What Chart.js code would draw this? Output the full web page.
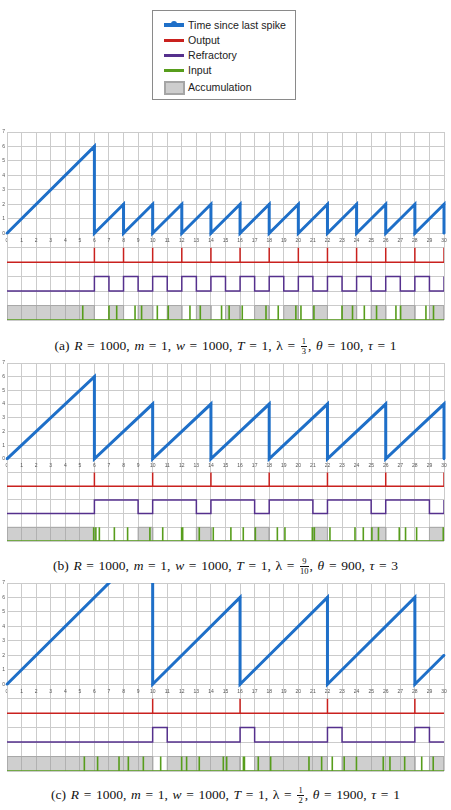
<!DOCTYPE html>
<html lang="en">
<head>
<meta charset="UTF-8">
<title>Spike timing</title>
<script src="https://cdn.jsdelivr.net/npm/chart.js"></script>
<style>
  body { margin: 0; width: 451px; height: 810px; background: #fff; position: relative; overflow: hidden; }
  canvas { position: absolute; left: 0; }
  .legend { position: absolute; left: 152px; top: 10px; width: 142px; height: 88px; border: 1px solid #8a8a8a;
            font-family: "Liberation Sans", Arial, sans-serif; font-size: 10.6px; color: #222; }
  .legend .row { position: absolute; left: 35px; height: 14px; line-height: 14px; white-space: nowrap; }
  .legend .line { position: absolute; left: 11px; width: 20px; }
  .legend .dot { position: absolute; left: 7px; top: -2px; width: 6px; height: 6px; border-radius: 50%; }
  .legend .box { position: absolute; left: 11px; top: 70px; width: 17px; height: 10px; background: #cdcdcd; border: 2px solid #a5a5a5; }
  .caption { position: absolute; left: 0; width: 451px; text-align: center; font-family: "Liberation Serif", "DejaVu Serif", serif;
             font-size: 13.5px; word-spacing: 1.3px; color: #111; white-space: nowrap; }
  .frac { display: inline-block; vertical-align: -0.45em; text-align: center; font-size: 8.5px; line-height: 1; margin: 0 1px; word-spacing: 0; }
  .frac span { display: block; }
  .frac .num { border-bottom: 0.7px solid #111; padding: 0 1px; }
</style>
</head>
<body>

<div class="legend">
  <div class="line" style="top:12px;height:4px;background:#1e6fc8"><div class="dot" style="background:#1e6fc8"></div></div>
  <div class="row" style="top:7px">Time since last spike</div>
  <div class="line" style="top:28px;height:2.5px;background:#c9211e"></div>
  <div class="row" style="top:22px">Output</div>
  <div class="line" style="top:43px;height:2.5px;background:#55308d"></div>
  <div class="row" style="top:37px">Refractory</div>
  <div class="line" style="top:58px;height:2.5px;background:#579d1c"></div>
  <div class="row" style="top:52px">Input</div>
  <div class="box"></div>
  <div class="row" style="top:69px">Accumulation</div>
</div>

<canvas id="chartA" width="451" height="198" style="top:127px"></canvas>
<div class="caption" style="top:337px">(a) <i>R</i> = 1000, <i>m</i> = 1, <i>w</i> = 1000, <i>T</i> = 1, λ = <span class="frac"><span class="num">1</span><span>3</span></span>, <i>θ</i> = 100, <i>τ</i> = 1</div>

<canvas id="chartB" width="451" height="188" style="top:358px"></canvas>
<div class="caption" style="top:557px">(b) <i>R</i> = 1000, <i>m</i> = 1, <i>w</i> = 1000, <i>T</i> = 1, λ = <span class="frac"><span class="num">9</span><span>10</span></span>, <i>θ</i> = 900, <i>τ</i> = 3</div>

<canvas id="chartC" width="451" height="198" style="top:578px"></canvas>
<div class="caption" style="top:786px">(c) <i>R</i> = 1000, <i>m</i> = 1, <i>w</i> = 1000, <i>T</i> = 1, λ = <span class="frac"><span class="num">1</span><span>2</span></span>, <i>θ</i> = 1900, <i>τ</i> = 1</div>

<script>
// x range and tick labels shared by all three panels
const timeTicks = [0, 1, 2, 3, 4, 5, 6, 7, 8, 9, 10, 11, 12, 13, 14, 15, 16, 17, 18, 19, 20, 21, 22, 23, 24, 25, 26, 27, 28, 29, 30];
const sinceTicks = [0, 1, 2, 3, 4, 5, 6, 7];

// (a) lambda = 1/3, theta = 100, tau = 1
const sinceA_x = [0, 6, 6, 8, 8, 10, 10, 12, 12, 14, 14, 16, 16, 18, 18, 20, 20, 22, 22, 24, 24, 26, 26, 28, 28, 30, 30];
const sinceA_y = [0, 6, 0, 2, 0, 2, 0, 2, 0, 2, 0, 2, 0, 2, 0, 2, 0, 2, 0, 2, 0, 2, 0, 2, 0, 2, 0];
const outA = [6, 8, 10, 12, 14, 16, 18, 20, 22, 24, 26, 28, 30];
const refA = [[6, 7], [8, 9], [10, 11], [12, 13], [14, 15], [16, 17], [18, 19], [20, 21], [22, 23], [24, 25], [26, 27], [28, 29], [30, 30]];
const accA = [[0, 6], [7, 8], [9, 10], [11, 12], [13, 14], [15, 16], [17, 18], [19, 20], [21, 22], [23, 24], [25, 26], [27, 28], [29, 30]];
const inA = [5.2, 7.0, 7.53, 8.79, 9.24, 10.32, 11.07, 12.56, 13.27, 14.73, 15.25, 16.15, 17.78, 18.62, 19.83, 20.18,
             21.07, 23.0, 23.72, 24.53, 25.37, 26.7, 27.02, 28.76, 29.28];

// (b) lambda = 9/10, theta = 900, tau = 3
const sinceB_x = [0, 6, 6, 10, 10, 14, 14, 18, 18, 22, 22, 26, 26, 30, 30];
const sinceB_y = [0, 6, 0, 4, 0, 4, 0, 4, 0, 4, 0, 4, 0, 4, 0];
const outB = [6, 10, 14, 18, 22, 26, 30];
const refB = [[6, 9], [10, 13], [14, 17], [18, 21], [22, 25], [26, 29], [30, 30]];
const accB = [[0, 6], [9, 10], [13, 14], [17, 18], [21, 22], [25, 26], [29, 30]];
const inB = [5.95, 6.1, 6.34, 7.37, 8.28, 9.81, 10.69, 11.99, 12.06, 13.2, 14.16, 15.37, 16.22, 17.05, 18.56, 19.08,
             20.96, 21.1, 22.17, 23.89, 24.46, 25.05, 25.5, 26.93, 27.36, 28.12, 29.95];

// (c) lambda = 1/2, theta = 1900, tau = 1
const sinceC_x = [0, 10, 10, 16, 16, 22, 22, 28, 28, 30];
const sinceC_y = [0, 10, 0, 6, 0, 6, 0, 6, 0, 2];
const outC = [10, 16, 22, 28];
const refC = [[10, 11], [16, 17], [22, 23], [28, 29]];
const accC = [[0, 10], [11, 16], [17, 22], [23, 28], [29, 30]];
const inC = [5.31, 6.22, 7.69, 8.33, 9.36, 10.55, 11.99, 12.33, 13.2, 14.85, 15.08, 16.23, 16.3, 17.25, 18.1,
             20.73, 21.6, 22.33, 23.15, 23.99, 25.83, 26.29, 27.3, 28.47, 29.26];

const BLUE = '#1e6fc8', RED = '#c9211e', PURPLE = '#55308d', GREEN = '#579d1c';
const GRID = '#cbcbcb';
const xMin = timeTicks[0], xMax = timeTicks[timeTicks.length - 1];
const yTop = sinceTicks[sinceTicks.length - 1];

function zip(xs, ys) {
    return xs.map((x, i) => ({ x: x, y: ys[i] }));
}

// vertical unit spikes on a flat baseline
function spikeTrain(times) {
    const pts = [{ x: xMin, y: 0 }];
    times.forEach(t => pts.push({ x: t, y: 0 }, { x: t, y: 1 }, { x: t, y: 0 }));
    pts.push({ x: xMax, y: 0 });
    return pts;
}

// square wave, high on each interval
function steps(intervals) {
    const pts = [{ x: xMin, y: 0 }];
    intervals.forEach(([a, b]) => pts.push({ x: a, y: 0 }, { x: a, y: 1 }, { x: b, y: 1 }, { x: b, y: 0 }));
    pts.push({ x: xMax, y: 0 });
    return pts;
}

function makeChart(id, p, padBottom) {
    // the lower rows sit under the time axis, one grid unit each with a unit gap
    const rows = 6;
    new Chart(document.getElementById(id), {
        type: 'line',
        data: {
            datasets: [{
                label: 'Time since last spike',
                data: zip(p.sinceX, p.sinceY),
                yAxisID: 'y',
                borderColor: BLUE,
                backgroundColor: BLUE,
                borderWidth: 3,
                pointRadius: 1.3,
                pointBorderWidth: 0,
                order: 0,
                clip: { left: 3, right: 3, top: 0, bottom: 3 }
            }, {
                label: 'Output',
                data: spikeTrain(p.out),
                yAxisID: 'yOut',
                borderColor: RED,
                borderWidth: 1.5,
                pointRadius: 0,
                order: 1
            }, {
                label: 'Refractory',
                data: steps(p.ref),
                yAxisID: 'yRef',
                borderColor: PURPLE,
                borderWidth: 1.5,
                pointRadius: 0,
                order: 2
            }, {
                label: 'Input',
                data: spikeTrain(p.inp),
                yAxisID: 'yIn',
                borderColor: GREEN,
                borderWidth: 1.6,
                pointRadius: 0,
                order: 3
            }, {
                label: 'Accumulation',
                data: steps(p.acc),
                yAxisID: 'yIn',
                borderColor: '#a8a8a8',
                borderWidth: 1,
                backgroundColor: 'rgba(140,140,140,0.42)',
                fill: 'origin',
                pointRadius: 0,
                order: 4
            }]
        },
        options: {
            responsive: false,
            animation: false,
            devicePixelRatio: 1,
            layout: { padding: { left: 0, right: 7, top: 4, bottom: padBottom } },
            plugins: { legend: { display: false }, tooltip: { enabled: false } },
            elements: { line: { tension: 0, borderJoinStyle: 'miter' } },
            scales: {
                x: {
                    type: 'linear',
                    position: { y: 0 },
                    min: xMin,
                    max: xMax,
                    grid: { color: GRID, drawTicks: false },
                    border: { color: GRID },
                    afterBuildTicks: (s) => { s.ticks = timeTicks.map(v => ({ value: v })); },
                    ticks: { autoSkip: false, maxRotation: 0, padding: 4, color: '#555',
                             font: { size: 5, family: 'Liberation Sans' } }
                },
                y: {
                    min: -rows,
                    max: yTop,
                    grid: { color: GRID, drawTicks: false },
                    border: { color: GRID },
                    afterFit: (s) => { s.width = 7; },
                    ticks: { stepSize: 1, padding: 2, color: '#555',
                             font: { size: 5, family: 'Liberation Sans' },
                             callback: (v) => sinceTicks.includes(v) ? v : '' }
                },
                yOut: { display: false, min: -rows + 2, max: yTop + 2 },
                yRef: { display: false, min: -rows + 4, max: yTop + 4 },
                yIn: { display: false, min: -rows + 6, max: yTop + 6 }
            }
        }
    });
}

makeChart('chartA', { sinceX: sinceA_x, sinceY: sinceA_y, out: outA, ref: refA, acc: accA, inp: inA }, 4.5);
makeChart('chartB', { sinceX: sinceB_x, sinceY: sinceB_y, out: outB, ref: refB, acc: accB, inp: inB }, 4);
makeChart('chartC', { sinceX: sinceC_x, sinceY: sinceC_y, out: outC, ref: refC, acc: accC, inp: inC }, 4.5);
</script>
</body>
</html>
